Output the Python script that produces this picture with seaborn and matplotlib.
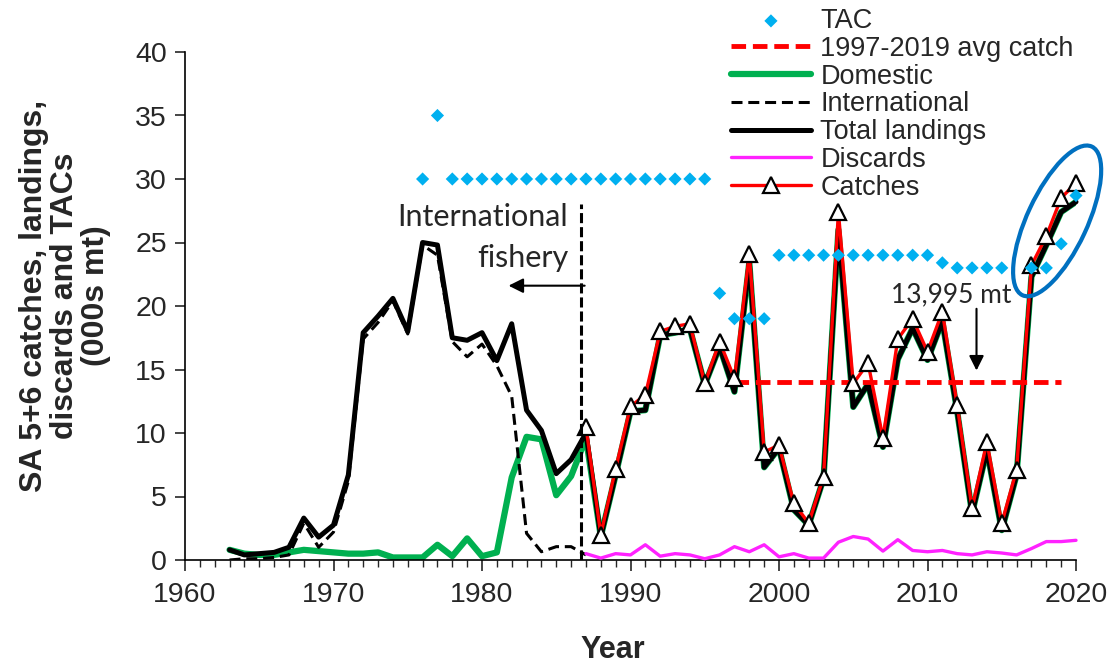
import numpy as np
import pandas as pd
import matplotlib
matplotlib.use("Agg")
import matplotlib.pyplot as plt
import matplotlib.transforms as mtransforms
from matplotlib.patches import Ellipse
from matplotlib.ticker import MultipleLocator
import seaborn as sns

# ---- data (000s mt) ----
years_early = list(range(1963, 1988))
years_late = list(range(1987, 2021))
years_all = list(range(1963, 2021))

total_early = [0.8, 0.4, 0.5, 0.6, 1.0, 3.3, 1.8, 2.75, 6.7, 17.9, 19.2, 20.6, 18.0,
               25.0, 24.8, 17.5, 17.3, 17.9, 15.7, 18.6, 11.8, 10.2, 6.8, 7.9, 10.0]
total_late = [1.85, 6.7, 11.7, 11.8, 17.7, 17.9, 18.2, 13.8, 16.8, 13.25, 23.45, 7.3,
              8.8, 3.96, 2.75, 6.41, 26.0, 12.05, 13.85, 8.9, 15.8, 18.25, 15.75, 18.8,
              11.7, 3.67, 8.65, 2.35, 6.7, 22.3, 24.8, 27.4, 28.2]
domestic_early = [0.8, 0.5, 0.4, 0.4, 0.6, 0.8, 0.7, 0.6, 0.5, 0.5, 0.6, 0.2, 0.2,
                  0.2, 1.2, 0.3, 1.7, 0.3, 0.6, 6.5, 9.7, 9.5, 5.1, 6.6, 9.6]
international = [0.0, 0.1, 0.1, 0.2, 0.4, 2.9, 1.0, 2.2, 6.2, 17.4, 18.7, 20.4, 17.8,
                 24.8, 24.0, 17.2, 16.0, 17.0, 15.3, 12.9, 2.1, 0.65, 1.05, 1.05, 0.4]
catches = [10.5, 2.0, 7.2, 12.1, 13.0, 18.0, 18.4, 18.6, 13.9, 17.2, 14.3, 24.1, 8.5,
           9.05, 4.46, 2.9, 6.56, 27.4, 13.9, 15.5, 9.6, 17.4, 19.0, 16.4, 19.55, 12.2,
           4.07, 9.3, 2.9, 7.1, 23.2, 25.5, 28.5, 29.7]
discards = [0.5, 0.15, 0.5, 0.4, 1.2, 0.3, 0.5, 0.4, 0.1, 0.4, 1.05, 0.65, 1.2, 0.25,
            0.5, 0.15, 0.15, 1.4, 1.85, 1.65, 0.7, 1.6, 0.75, 0.65, 0.75, 0.5, 0.4,
            0.65, 0.55, 0.4, 0.9, 1.45, 1.45, 1.55]
tac_years = [1976, 1977] + list(range(1978, 1996)) + [1996, 1997, 1998, 1999] \
    + list(range(2000, 2011)) + [2011] + list(range(2012, 2016)) + [2017, 2018, 2019, 2020]
tac = [30, 35] + [30] * 18 + [21, 19, 19, 19] + [24] * 11 + [23.4] + [23] * 4 \
    + [23, 23, 24.9, 28.7]
avg_years = [1997, 2019]
avg_catch = [13.995, 13.995]

total_all = total_early + total_late
domestic_all = domestic_early + total_late

# ---- style ----
sns.set_style("white")
plt.rcParams['font.family'] = ['Liberation Sans', 'DejaVu Sans']

fig = plt.figure(figsize=(11.12, 6.67), dpi=100)
ax = fig.add_axes([185 / 1112, 107 / 667, 891 / 1112, 508 / 667])

sns.lineplot(x=years_all, y=domestic_all, ax=ax, color='#00B050', lw=4.5,
             label='Domestic', zorder=2)
sns.lineplot(x=years_early, y=international, ax=ax, color='black', lw=2.2,
             ls=(0, (3.6, 1.9)), label='International', zorder=3)
sns.lineplot(x=years_all, y=total_all, ax=ax, color='black', lw=3.6,
             label='Total landings', zorder=4, clip_on=False)
sns.lineplot(x=years_late, y=discards, ax=ax, color='#FF22FF', lw=2.4,
             label='Discards', zorder=4, clip_on=False)
sns.lineplot(x=avg_years, y=avg_catch, ax=ax, color='#FF0000', lw=3.5,
             ls=(0, (3.0, 1.4)), label='1997-2019 avg catch', zorder=5)
sns.lineplot(x=years_late, y=catches, ax=ax, color='#FF0000', lw=2.4,
             marker='^', markersize=11, markerfacecolor='white',
             markeredgecolor='black', markeredgewidth=1.6, label='Catches', zorder=6,
             clip_on=False)
sns.scatterplot(x=tac_years, y=tac, ax=ax, color='#00B0F0', marker='D', s=45,
                edgecolor='none', label='TAC', zorder=7, clip_on=False)

# international fishery boundary
ax.plot([1986.7, 1986.7], [0, 28], color='black', lw=2.2, ls=(0, (3.3, 1.3)), zorder=8)
ax.annotate('', xy=(1981.6, 21.6), xytext=(1987.1, 21.6),
            arrowprops=dict(arrowstyle='-|>', color='black', lw=1.5, mutation_scale=22))
ax.text(1985.8, 27.0, 'International', ha='right', va='center', fontsize=22,
        family=['Lato', 'DejaVu Sans'])
ax.text(1985.8, 23.8, 'fishery', ha='right', va='center', fontsize=22,
        family=['Lato', 'DejaVu Sans'])

# average label
ax.text(2011.6, 20.9, '13,995 mt', ha='center', va='center', fontsize=19,
        family=['Lato', 'DejaVu Sans'])
ax.annotate('', xy=(2013.3, 14.7), xytext=(2013.3, 20.0),
            arrowprops=dict(arrowstyle='-|>', color='black', lw=1.5, mutation_scale=22))

# highlight ellipse for latest years
ell_tr = fig.dpi_scale_trans + mtransforms.ScaledTranslation(2018.73, 26.7, ax.transData)
ax.add_patch(Ellipse((0, 0), 1.64, 0.60, angle=65, transform=ell_tr, fill=False,
                     edgecolor='#0070C0', lw=3, zorder=9, clip_on=False))

# axes
ax.set_xlim(1960, 2020)
ax.set_ylim(0, 40)
ax.xaxis.set_major_locator(MultipleLocator(10))
ax.xaxis.set_minor_locator(MultipleLocator(1))
ax.yaxis.set_major_locator(MultipleLocator(5))
ax.tick_params(axis='x', which='major', direction='out', length=8, width=1.2,
               labelsize=20.5, pad=7.5, bottom=True)
ax.tick_params(axis='x', which='minor', direction='out', length=5, width=1, bottom=True)
ax.tick_params(axis='y', which='major', direction='out', length=7, width=1.2,
               labelsize=20.5, pad=6, left=True)
for side in ['top', 'right']:
    ax.spines[side].set_visible(False)
for side in ['left', 'bottom']:
    ax.spines[side].set_color('black')
    ax.spines[side].set_linewidth(1.2)
ax.set_xlabel('')
ax.set_ylabel('')

fig.text(65 / 1112, 1 - 296 / 667, 'SA 5+6 catches, landings,\ndiscards and TACs\n(000s mt)',
         rotation=90, ha='center', va='center', multialignment='center',
         fontsize=23, fontweight='bold', linespacing=1.05)
fig.text(613 / 1112, 1 - 658 / 667, 'Year', ha='center', va='baseline', fontsize=22,
         fontweight='bold')

# legend in the original order
handles, labels = ax.get_legend_handles_labels()
order = ['TAC', '1997-2019 avg catch', 'Domestic', 'International', 'Total landings',
         'Discards', 'Catches']
hmap = dict(zip(labels, handles))
ax.legend([hmap[k] for k in order], order, loc='upper left',
          bbox_to_anchor=(731 / 1112, 1 - 8 / 667), bbox_transform=fig.transFigure,
          frameon=False, fontsize=19.5, handlelength=2.95, handletextpad=0.35,
          labelspacing=0.065, borderpad=0, borderaxespad=0)

fig.savefig('out.png', dpi=100)
